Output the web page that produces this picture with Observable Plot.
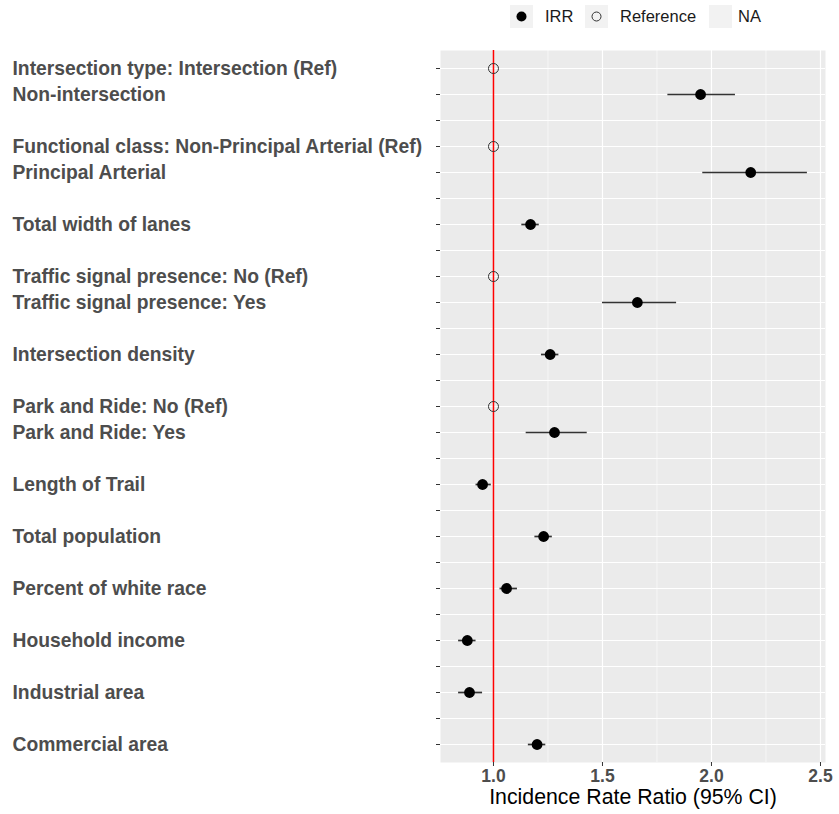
<!DOCTYPE html>
<html>
<head>
<meta charset="utf-8">
<script src="https://cdn.jsdelivr.net/npm/d3@7"></script>
<script src="https://cdn.jsdelivr.net/npm/@observablehq/plot@0.6"></script>
<style>
  html, body { margin: 0; padding: 0; background: #fff; }
  body { width: 839px; height: 814px; position: relative; font-family: "Liberation Sans", Arial, sans-serif; }
  #legend { position: relative; height: 38px; }
  .key { position: absolute; top: 5px; width: 23px; height: 23px; background: #F2F2F2; }
  .key svg { display: block; }
  .lab { position: absolute; top: 6px; font-size: 16.5px; color: #1a1a1a; line-height: 20px; }
</style>
</head>
<body>
<div id="legend">
  <div class="key" style="left:510px"><svg width="23" height="23"><circle cx="11.5" cy="11.5" r="5" fill="black"/></svg></div>
  <div class="lab" style="left:545px">IRR</div>
  <div class="key" style="left:585px"><svg width="23" height="23"><circle cx="11.5" cy="11.5" r="4.5" fill="none" stroke="#333" stroke-width="1"/></svg></div>
  <div class="lab" style="left:620px">Reference</div>
  <div class="key" style="left:709px"></div>
  <div class="lab" style="left:738px">NA</div>
</div>
<div id="chart"></div>
<script>
// Row labels, top to bottom ("" = blank spacer row)
const rowLabels = [
  "Intersection type: Intersection (Ref)",
  "Non-intersection",
  "",
  "Functional class: Non-Principal Arterial (Ref)",
  "Principal Arterial",
  "",
  "Total width of lanes",
  "",
  "Traffic signal presence: No (Ref)",
  "Traffic signal presence: Yes",
  "",
  "Intersection density",
  "",
  "Park and Ride: No (Ref)",
  "Park and Ride: Yes",
  "",
  "Length of Trail",
  "",
  "Total population",
  "",
  "Percent of white race",
  "",
  "Household income",
  "",
  "Industrial area",
  "",
  "Commercial area"
];

// IRR estimates with 95% CI
const irrLabels = ["Non-intersection","Principal Arterial","Total width of lanes","Traffic signal presence: Yes","Intersection density","Park and Ride: Yes","Length of Trail","Total population","Percent of white race","Household income","Industrial area","Commercial area"];
const irr   = [1.95, 2.18, 1.17, 1.66, 1.26, 1.28, 0.95, 1.23, 1.06, 0.88, 0.89, 1.20];
const lower = [1.80, 1.96, 1.13, 1.50, 1.22, 1.15, 0.92, 1.19, 1.03, 0.84, 0.84, 1.16];
const upper = [2.11, 2.44, 1.21, 1.84, 1.30, 1.43, 0.99, 1.27, 1.11, 0.92, 0.95, 1.24];

// Reference categories (IRR = 1)
const refLabels = ["Intersection type: Intersection (Ref)","Functional class: Non-Principal Arterial (Ref)","Traffic signal presence: No (Ref)","Park and Ride: No (Ref)"];
const refValue = 1;

const xTicks = [1.0, 1.5, 2.0, 2.5];
const xMinor = [1.25, 1.75, 2.25];
const xLabel = "Incidence Rate Ratio (95% CI)";

const ids = rowLabels.map((d, i) => i);
const est = irrLabels.map((l, i) => ({id: rowLabels.indexOf(l), irr: irr[i], lo: lower[i], hi: upper[i]}));
const refs = refLabels.map(l => ({id: rowLabels.indexOf(l), irr: refValue}));
const rows = rowLabels.map((l, i) => ({id: i, label: l}));

const chart = Plot.plot({
  width: 839,
  height: 776,
  marginLeft: 440,
  marginRight: 14,
  marginTop: 12,
  marginBottom: 52,
  style: {fontFamily: "'Liberation Sans', Arial, sans-serif", background: "white"},
  x: {domain: [0.757, 2.523]},
  y: {type: "point", domain: ids, padding: 0.6},
  marks: [
    Plot.frame({fill: "#EBEBEB"}),
    Plot.ruleX(xMinor, {stroke: "white", strokeWidth: 0.6}),
    Plot.ruleX(xTicks, {stroke: "white", strokeWidth: 1.2}),
    Plot.ruleY(ids, {stroke: "white", strokeWidth: 1.2}),
    Plot.ruleX([refValue], {stroke: "red", strokeWidth: 1.5}),
    Plot.ruleY(est, {y: "id", x1: "lo", x2: "hi", stroke: "#333", strokeWidth: 1.7}),
    Plot.dot(est, {x: "irr", y: "id", r: 5.4, fill: "black", stroke: "none"}),
    Plot.dot(refs, {x: "irr", y: "id", r: 5, fill: "none", stroke: "#333", strokeWidth: 1}),
    Plot.axisX({ticks: xTicks, tickFormat: d3.format(".1f"), tickSize: 4, tickPadding: 3, fontSize: 17.5, fontWeight: "bold", fill: "#4d4d4d", stroke: "#333", label: null}),
    Plot.axisY({tickSize: 4, tickFormat: () => "", stroke: "#333", label: null}),
    Plot.text(rows, {y: "id", text: "label", frameAnchor: "left", dx: -428, textAnchor: "start", fontSize: 19.3, fontWeight: "bold", fill: "#4d4d4d"}),
    Plot.text([xLabel], {frameAnchor: "bottom", dy: 41, fontSize: 21.3, fill: "black"})
  ]
});
document.getElementById("chart").appendChild(chart);
</script>
</body>
</html>
